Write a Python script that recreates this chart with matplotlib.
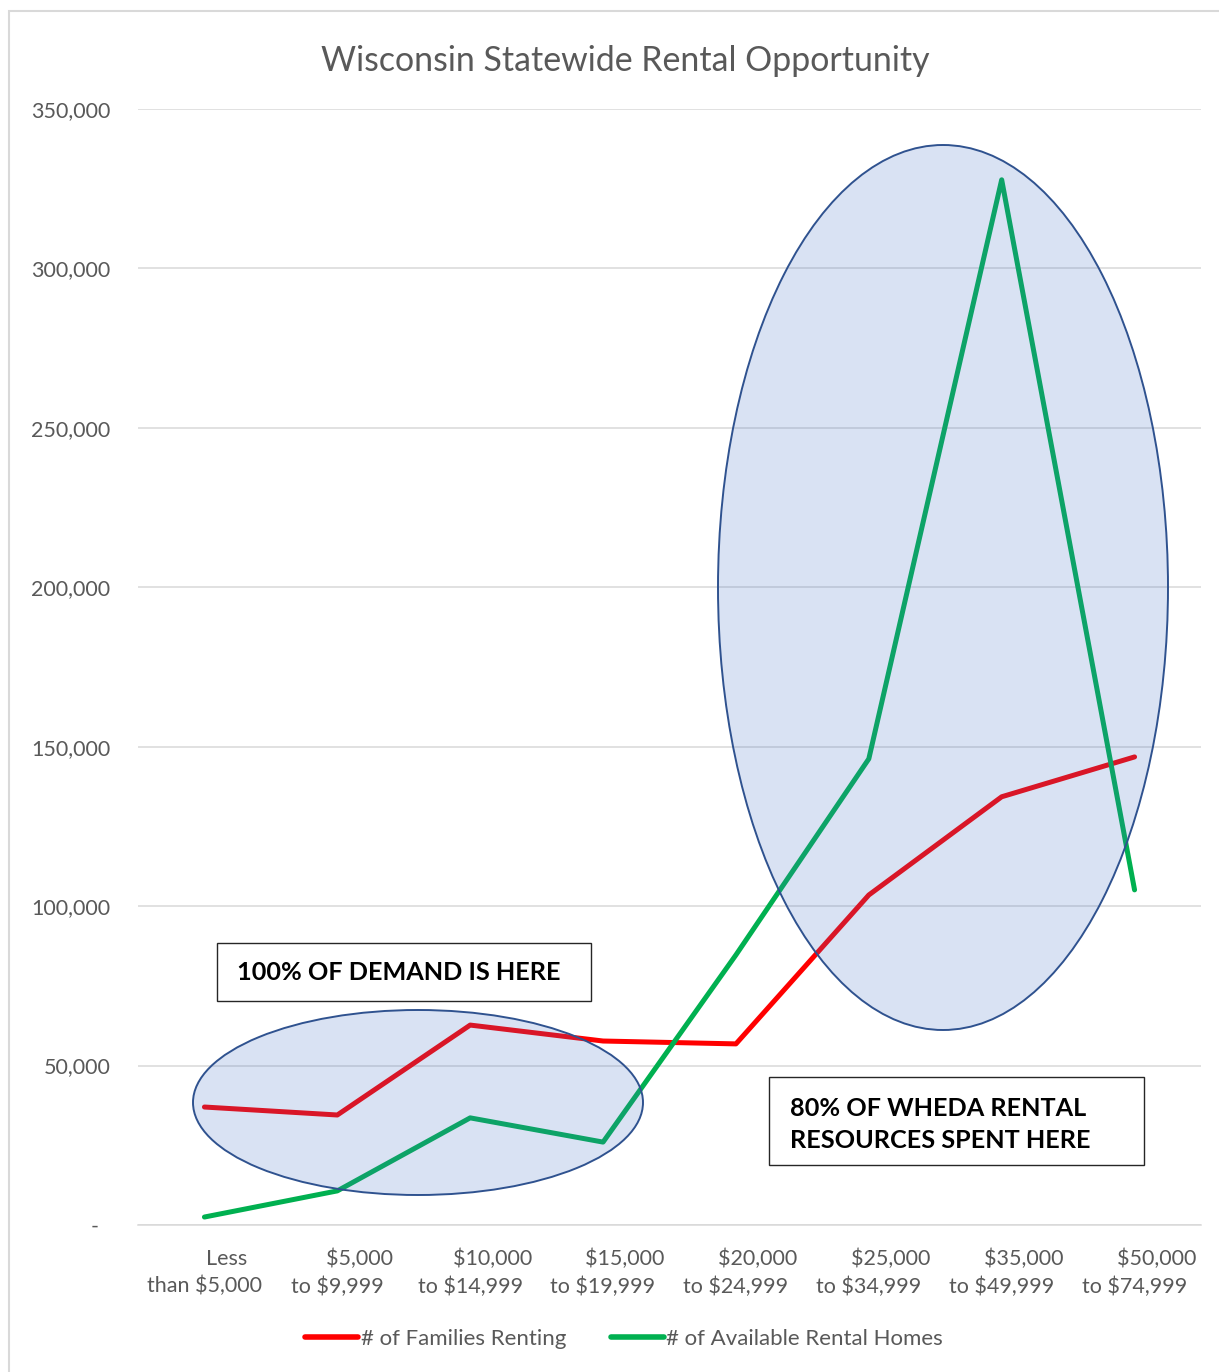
import matplotlib
matplotlib.use("Agg")
import matplotlib.pyplot as plt
from matplotlib.patches import Ellipse, Rectangle
from matplotlib.lines import Line2D

plt.rcParams['font.family'] = ['Lato', 'DejaVu Sans']

categories = ["        Less\nthan $5,000", "        $5,000\nto $9,999", "        $10,000\nto $14,999",
              "        $15,000\nto $19,999", "        $20,000\nto $24,999", "        $25,000\nto $34,999",
              "        $35,000\nto $49,999", "        $50,000\nto $74,999"]
families_renting = [37000, 34500, 62700, 57700, 56800, 103500, 134300, 146800]
available_homes = [2500, 10700, 33600, 26000, 84700, 146200, 327800, 105100]
yticks = [0, 50000, 100000, 150000, 200000, 250000, 300000, 350000]
ytick_labels = ["-  ", "50,000", "100,000", "150,000", "200,000", "250,000", "300,000", "350,000"]

W, H = 1219, 1372
fig = plt.figure(figsize=(W / 100, H / 100), dpi=100)

def fx(px):
    return px / W

def fy(py):
    return 1 - py / H

ax = fig.add_axes([fx(138), fy(1225), fx(1201) - fx(138), fy(109) - fy(1225)])
x = list(range(len(categories)))
gray = "#595959"
red = "#FF0000"
green = "#00B050"

ax.plot(x, families_renting, color=red, lw=3.6, solid_capstyle='round',
        solid_joinstyle='round', label="# of Families Renting", zorder=3)
ax.plot(x, available_homes, color=green, lw=3.6, solid_capstyle='round',
        solid_joinstyle='round', label="# of Available Rental Homes", zorder=3)

ax.set_xlim(-0.5, len(categories) - 0.5)
ax.set_ylim(0, 350000)
ax.set_yticks(yticks)
ax.set_yticklabels(ytick_labels)
ax.set_xticks(x)
ax.set_xticklabels(categories, linespacing=1.45)
ax.tick_params(axis='both', length=0, labelsize=15.5, labelcolor=gray)
ax.tick_params(axis='y', pad=20)
ax.tick_params(axis='x', pad=17)
ax.grid(axis='y', color="#D9D9D9", lw=1.1, zorder=0)
ax.set_axisbelow(True)
for s in ['top', 'right', 'left']:
    ax.spines[s].set_visible(False)
ax.spines['bottom'].set_color("#D9D9D9")
ax.spines['bottom'].set_linewidth(1.1)

# Chart border
fig.patches.append(Rectangle((fx(9), fy(1380)), fx(1230) - fx(9), fy(11) - fy(1380),
                             transform=fig.transFigure, fill=False,
                             edgecolor="#D9D9D9", lw=1.5, zorder=0))

# Title
fig.text(fx(625), fy(61), "Wisconsin Statewide Rental Opportunity", ha='center',
         va='center', fontsize=24.4, color=gray)

# Ellipses (semi-transparent overlay)
for cx, cy, w, h in [(943, 587.5, 450, 885), (418, 1102.5, 450, 185)]:
    e = Ellipse((fx(cx), fy(cy)), w / W, h / H, transform=fig.transFigure,
                facecolor=(0x44 / 255, 0x72 / 255, 0xC4 / 255, 0.2),
                edgecolor="#2F528F", lw=1.4, zorder=5)
    fig.patches.append(e)

# Text boxes
for (x0, y0, x1, y1) in [(217, 943, 591, 1001), (769, 1077, 1144, 1165)]:
    fig.patches.append(Rectangle((fx(x0), fy(y1)), fx(x1) - fx(x0), fy(y0) - fy(y1),
                                 transform=fig.transFigure, facecolor="white",
                                 edgecolor="#262626", lw=1.0, zorder=6))
fig.text(fx(237), fy(973), "100% OF DEMAND IS HERE", ha='left', va='center',
         fontsize=18.2, fontweight='bold', color='black', zorder=7)
fig.text(fx(790), fy(1124.5), "80% OF WHEDA RENTAL\nRESOURCES SPENT HERE", ha='left',
         va='center', fontsize=18.2, fontweight='bold', color='black',
         linespacing=1.52, zorder=7)

# Legend
handles = [Line2D([], [], color=red, lw=4, solid_capstyle='round'),
           Line2D([], [], color=green, lw=4, solid_capstyle='round')]
fig.legend(handles, ["# of Families Renting", "# of Available Rental Homes"],
           loc='center', bbox_to_anchor=(fx(624), fy(1339)), ncol=2, frameon=False,
           fontsize=16, labelcolor=gray, handlelength=2.4, handletextpad=0.1,
           columnspacing=2.0)

fig.savefig("out.png", dpi=100)
